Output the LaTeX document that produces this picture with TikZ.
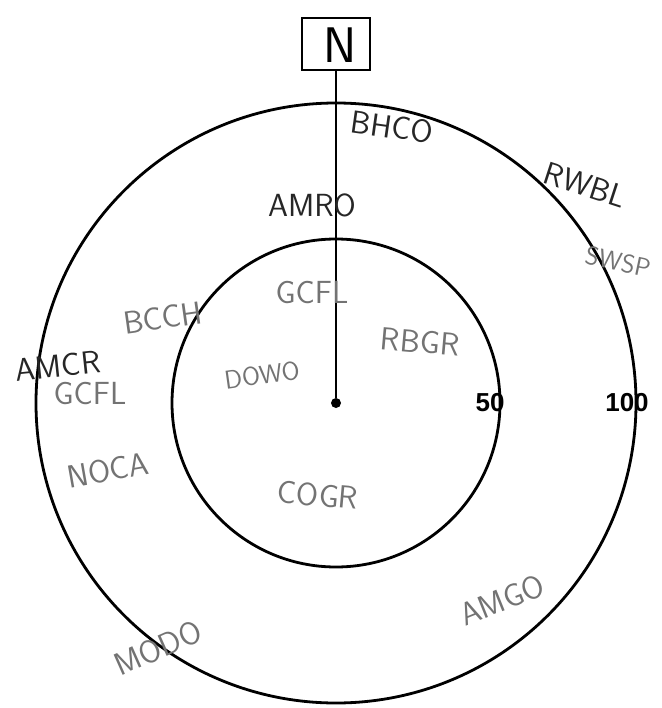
\documentclass[tikz,border=0pt]{standalone}
\usepackage{fontspec}
\newfontfamily\distfont{Liberation Sans}
\usetikzlibrary{positioning,calc}

\begin{document}
\begin{tikzpicture}[
    x=1pt, y=1pt,
    ring/.style={draw, line width=2.8pt},
    bird/.style={font=\sffamily\fontsize{32}{32}\selectfont, text=black!55},
    birddark/.style={font=\sffamily\fontsize{32}{32}\selectfont, text=black!85},
    dist/.style={font=\distfont\bfseries\fontsize{26}{26}\selectfont},
]
\useasboundingbox (0,0) rectangle (661,-708);
% observer and north marker
\node[circle, fill, inner sep=0pt, minimum size=10pt] (obs) at (336,-403) {};
\node[draw, line width=1.5pt, minimum width=68pt, minimum height=52pt, inner sep=0pt] (nbox) at (336,-44) {};
\node[font=\sffamily\fontsize{50}{50}\selectfont, inner sep=0pt] (north) at (340,-45) {N};
\draw[line width=2pt] (obs) -- (nbox);
% distance rings
\draw[ring] (obs.center) circle (164);
\draw[ring] (obs.center) circle (300);
\node[dist] (d50) at (490,-403) {50};
\node[dist] (d100) at (627,-403) {100};
% birds
\node[birddark, rotate=-8] (bhco) at (392,-127) {BHCO};
\node[birddark, rotate=-18] (rwbl) at (585,-185) {RWBL};
\node[bird, rotate=-12, font=\sffamily\fontsize{26}{26}\selectfont] (swsp) at (618,-262) {SWSP};
\node[birddark] (amro) at (312,-205) {AMRO};
\node[bird] (gcfl) at (312,-293) {GCFL};
\node[bird, rotate=8] (bcch) at (163,-318) {BCCH};
\node[birddark, rotate=6] (amcr) at (58,-366) {AMCR};
\node[bird] (gcflb) at (90,-394) {GCFL};
\node[bird, rotate=-5] (rbgr) at (420,-342) {RBGR};
\node[bird, rotate=8, font=\sffamily\fontsize{26}{26}\selectfont] (dowo) at (262,-375) {DOWO};
\node[bird, rotate=10] (noca) at (108,-470) {NOCA};
\node[bird, rotate=-5] (cogr) at (318,-495) {COGR};
\node[bird, rotate=22] (amgo) at (502,-600) {AMGO};
\node[bird, rotate=24] (modo) at (158,-648) {MODO};
\end{tikzpicture}
\end{document}
